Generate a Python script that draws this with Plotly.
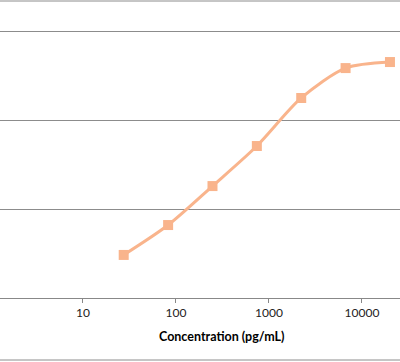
import numpy as np
import plotly.graph_objects as go

concentration = [27.4, 82.3, 246.9, 740.7, 2222.2, 6666.7, 20000]
signal = [0.242, 0.410, 0.629, 0.854, 1.124, 1.292, 1.326]
x_tick_vals = [1, 10, 100, 1000, 10000, 100000]
x_tick_text = ["1", "10", "100", "1000", "10000", "100000"]
x_title = "Concentration (pg/mL)"

fig = go.Figure()
fig.add_trace(go.Scatter(
    x=concentration, y=signal, mode="lines+markers",
    line=dict(color="#F9B48C", width=3, shape="spline", smoothing=0.8),
    marker=dict(symbol="square", size=10, color="#F9B48C"),
    showlegend=False, cliponaxis=False,
))

W, H = 400, 362
left_px, right_px = 0, 400
top_px, bottom_px = 1, 298
plot_h = bottom_px - top_px
fig.update_layout(
    width=W, height=H,
    margin=dict(l=left_px, r=W - right_px, t=top_px, b=H - bottom_px),
    paper_bgcolor="white", plot_bgcolor="white",
    font=dict(family="Lato, Open Sans, sans-serif", color="#333333", size=12),
    xaxis=dict(
        type="log", range=[0.1075, 4.409],
        tickvals=x_tick_vals, ticktext=x_tick_text,
        ticks="outside", ticklen=4, tickcolor="#888888",
        showline=True, linecolor="#888888", linewidth=1,
        showgrid=False, zeroline=False,
        tickfont=dict(size=12, color="#222222"),
    ),
    yaxis=dict(
        range=[0, 1.669], dtick=0.5, showticklabels=False,
        showgrid=True, gridcolor="#8c8c8c", gridwidth=1,
        zeroline=False, showline=False,
    ),
)
fig.add_annotation(text="<b>" + x_title + "</b>", xref="paper", yref="paper",
                   x=221.5 / W, y=(bottom_px - 336) / plot_h, xanchor="center", yanchor="middle",
                   showarrow=False, font=dict(size=12.5, color="#000000"))
# chart border lines (top and bottom)
fig.add_shape(type="line", xref="paper", yref="paper", x0=0, x1=1, y0=1, y1=1,
              line=dict(color="#8c8c8c", width=1))
fig.add_shape(type="line", xref="paper", yref="paper", x0=0, x1=1,
              y0=(bottom_px - 360) / plot_h, y1=(bottom_px - 360) / plot_h,
              line=dict(color="#8c8c8c", width=1))
fig.write_html("out.html", config={"displayModeBar": False},
               post_script="document.body.style.margin='0';document.body.style.padding='0';")
